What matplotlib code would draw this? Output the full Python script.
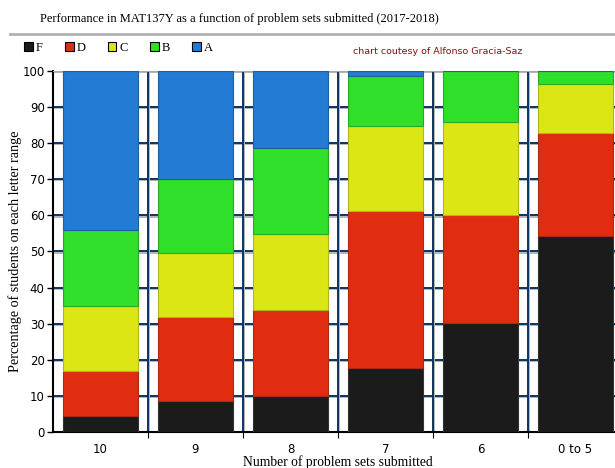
import numpy as np
import matplotlib.pyplot as plt
import matplotlib.patheffects as pe
from matplotlib.patches import Patch
from matplotlib.lines import Line2D

# 数据：每个区间内各等级所占百分比
categories = ['10', '9', '8', '7', '6', '0 to 5']
grades = ['F', 'D', 'C', 'B', 'A']
pct_F = [4.4, 8.7, 10.1, 17.8, 30.1, 54.2]
pct_D = [12.5, 23.1, 23.7, 43.3, 30.1, 28.6]
pct_C = [18.0, 17.7, 21.1, 23.7, 25.7, 13.6]
pct_B = [21.1, 20.5, 23.9, 13.8, 14.1, 3.6]
pct_A = [44.0, 30.0, 21.2, 1.4, 0.0, 0.0]

colors = ['#1b1b1b', '#e02d12', '#dde615', '#30df2a', '#237bd3']
edges = ['#333333', '#a82a10', '#b0b520', '#2aa826', '#1d5fa3']

serif = 'Liberation Serif'
navy = '#0a3466'

fig = plt.figure(figsize=(6.15, 4.68), dpi=100)
ax = fig.add_axes([53 / 615, 36 / 468, 570 / 615, 361 / 468])

x = np.arange(len(categories))
bottom = np.zeros(len(categories))
for vals, c, ec in zip([pct_F, pct_D, pct_C, pct_B, pct_A], colors, edges):
    vals = np.array(vals)
    ax.bar(x, vals, width=0.79, bottom=bottom, color=c, edgecolor=ec,
           linewidth=0.8, zorder=3)
    bottom += vals

ax.set_xlim(-0.5, len(categories) - 0.5)
ax.set_ylim(0, 100)
ax.set_yticks(np.arange(0, 101, 10))
ax.set_xticks(x)
ax.set_xticklabels(categories)
ax.set_xticks(np.arange(0.5, len(categories) - 0.5, 1), minor=True)
ax.tick_params(axis='x', which='major', length=0, pad=8, labelsize=8.5)
ax.tick_params(axis='x', which='minor', length=4, width=0.8)
ax.tick_params(axis='y', length=4, width=1, labelsize=8.5, pad=2)

# 网格线（带灰色阴影）
shadow = [pe.SimpleLineShadow(offset=(0.8, -0.8), shadow_color='#b4b4b4', alpha=1),
          pe.Normal()]
for yv in np.arange(10, 101, 10):
    ax.axhline(yv, color=navy, lw=1.4, zorder=1, path_effects=shadow)
for xv in np.arange(0.5, len(categories) - 0.5, 1):
    ax.axvline(xv, color=navy, lw=1.4, zorder=1, path_effects=shadow)

for s in ['left', 'bottom']:
    ax.spines[s].set_linewidth(1.5)
    ax.spines[s].set_color('black')
ax.spines['top'].set_color('#aaaaaa')
ax.spines['right'].set_visible(False)

ax.set_xlabel('Number of problem sets submitted', fontfamily=serif,
              fontsize=9.8, labelpad=-1)
ax.set_ylabel('Percentage of students on each letter range', fontfamily=serif,
              fontsize=10.2, labelpad=0)

fig.text(40 / 615, 1 - 19 / 468,
         'Performance in MAT137Y as a function of problem sets submitted (2017-2018)',
         fontfamily=serif, fontsize=9.0, ha='left', va='center')
fig.add_artist(Line2D([10 / 615, 1], [1 - 34 / 468] * 2, color='#b0b0b0', lw=2,
                      transform=fig.transFigure))

handles = [Patch(facecolor=c, edgecolor='black', linewidth=0.8) for c in colors]
fig.legend(handles, grades, loc='center left', bbox_to_anchor=(13 / 615, 1 - 48 / 468),
           ncol=5, frameon=False, handlelength=0.7, handleheight=0.7,
           handletextpad=0.25, columnspacing=1.75, prop={'family': serif, 'size': 9})

fig.text(438 / 615, 1 - 52 / 468, 'chart coutesy of Alfonso Gracia-Saz',
         color='#8b1010', fontsize=6.8, ha='center', va='center')

fig.savefig('out.png', dpi=100)
